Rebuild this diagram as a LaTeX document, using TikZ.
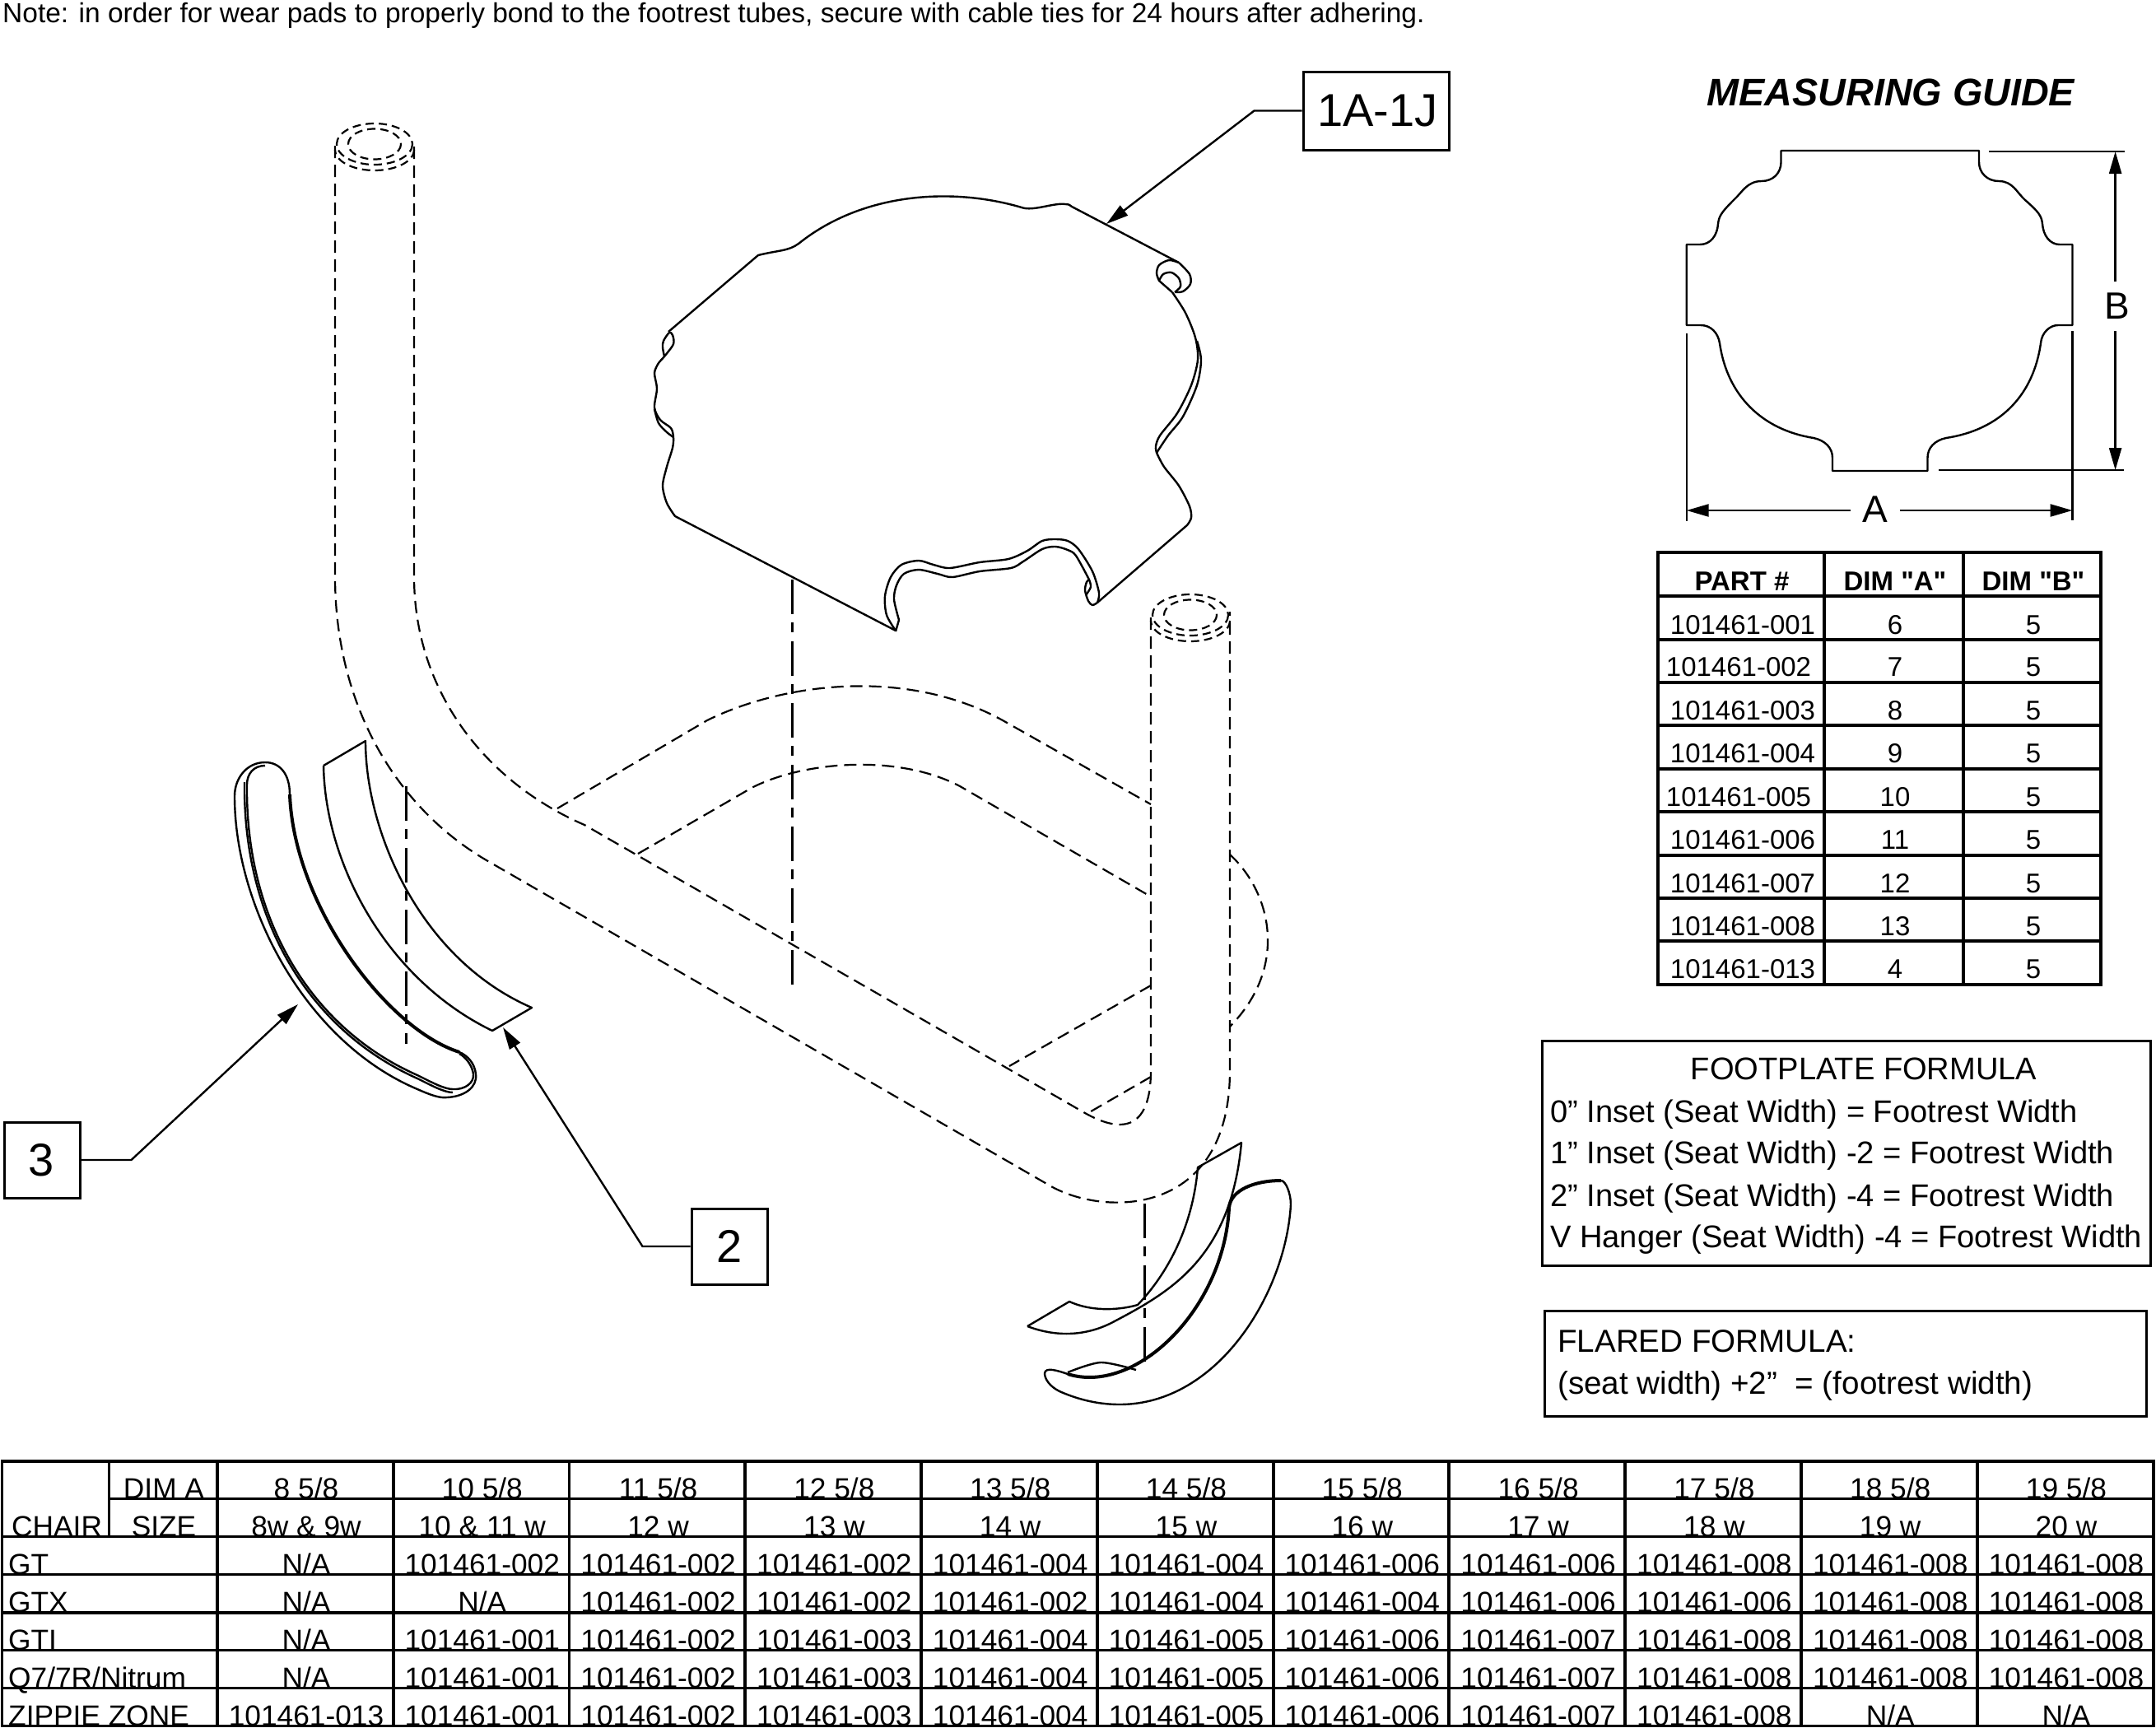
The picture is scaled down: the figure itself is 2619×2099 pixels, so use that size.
\documentclass[tikz,border=0pt]{standalone}
\usepackage{fontspec}
\setmainfont[Ligatures=TeXOff]{Liberation Sans}
\usetikzlibrary{arrows.meta}
\tikzset{
  hidden/.style={line width=2.2pt, dash pattern=on 15pt off 8pt},
  capline/.style={line width=2.2pt, dash pattern=on 10pt off 6pt},
  centerline/.style={line width=3pt, dash pattern=on 42pt off 10pt on 12pt off 11pt},
  part/.style={line width=2.4pt, line join=round},
  leader/.style={line width=2.4pt, -{Triangle[length=27pt,width=15pt]}},
  dimline/.style={line width=2.4pt},
  rule/.style={line width=3.5pt},
  partbox/.style={draw, line width=3pt, inner sep=0pt, font=\fontsize{56}{56}\selectfont},
  dimlabel/.style={inner sep=0pt, font=\fontsize{46}{46}\selectfont},
  note/.style={anchor=base west, inner sep=0pt, font=\fontsize{33.5}{33.5}\selectfont},
  formula/.style={anchor=base west, inner sep=0pt, font=\fontsize{38.1}{38.1}\selectfont},
  flared/.style={anchor=base west, inner sep=0pt, font=\fontsize{38.6}{38.6}\selectfont},
  small/.style={anchor=base, inner sep=0pt, font=\fontsize{33}{33}\selectfont},
  smallb/.style={anchor=base, inner sep=0pt, font=\bfseries\fontsize{33}{33}\selectfont},
  cell/.style={anchor=base, inner sep=0pt, font=\fontsize{35.3}{35.3}\selectfont},
  celll/.style={anchor=base west, inner sep=0pt, font=\fontsize{35.3}{35.3}\selectfont},
}
\begin{document}
\begin{tikzpicture}[x=1pt,y=-1pt]
      \useasboundingbox (0,0) rectangle (2619,2099);
      \node[note] (topnote) at (3,27) {Note: in order for wear pads to properly bond to the footrest tubes, secure with cable ties for 24 hours after adhering.};
      % tube, left leg, bend, cross bar, right leg
      \draw[hidden] (407,177) -- (407,700) .. controls (407,855) and (480,980) .. (591,1045) -- (1275,1440) .. controls (1340,1478) and (1494,1480) .. (1494,1300) -- (1494,743);
      \draw[hidden] (503,178) -- (503,700) .. controls (503,840) and (590,950) .. (710,1002) -- (1318,1352) .. controls (1350,1370) and (1398,1385) .. (1398,1300) -- (1398,750);
      \foreach \cx/\cy in {455/175,1446/747}{
        \draw[capline] (\cx,\cy) ellipse [x radius=46,y radius=25];
        \draw[capline] (\cx,\cy) ellipse [x radius=32,y radius=18.5];
        \draw[capline] plot [domain=0:180,samples=30] ({\cx+48*cos(\x)},{\cy+7+25*sin(\x)});
      }
      % hidden edges of the plate
      \draw[hidden] (677,982) -- (859,875) .. controls (950,830) and (1100,810) .. (1218,875) -- (1398,977);
      \draw[hidden] (775,1037) -- (913,957) .. controls (975,925) and (1090,915) .. (1166,955) -- (1396,1088);
      \draw[hidden] (1398,1197) -- (1226,1295);
      \draw[hidden] (1398,1308) -- (1320,1353);
      \draw[hidden] (1494,1038) .. controls (1545,1085) and (1565,1175) .. (1494,1247);
      % center lines
      \draw[centerline] (962,704) -- (962,1197);
      \draw[centerline] (493,955) -- (493,1268);
      \draw[centerline] (1390,1462) -- (1390,1657);
      % plate
      \draw[part] (812,403) -- (921,310) .. controls (945,304) and (958,305) .. (970,296) .. controls (1050,232) and (1160,228) .. (1241,252) .. controls (1255,257) and (1280,246) .. (1294,248) .. controls (1298,248) and (1300,249) .. (1302,251) -- (1432,319);
      \draw[part] plot [smooth] coordinates {(1432,319) (1445,333) (1446,345) (1437,354) (1427,355)};
      \draw[part] plot [smooth] coordinates {(1432,319) (1420,316) (1408,322) (1405,332) (1408,341)} -- (1424,355);
      \draw[part] plot [smooth] coordinates {(1408,341) (1413,333) (1423,331) (1432,338) (1434,348) (1427,355)};
      \draw[part] plot [smooth] coordinates {(1424,355) (1440,380) (1452,410) (1455,437) (1447,468) (1430,502) (1409,529) (1404,542) (1405,550)};
      \draw[part] plot [smooth] coordinates {(1454,414) (1459,437) (1454,468) (1437,506) (1419,529) (1405,550)};
      \draw[part] plot [smooth] coordinates {(1405,550) (1414,567) (1432,590) (1445,615) (1447,629) (1442,638)} -- (1333,732);
      \draw[part] plot [smooth] coordinates {(1333,732) (1327,735) (1322,730) (1318,717) (1320,707) (1323,704)};
      \draw[part] plot [smooth] coordinates {(1333,732) (1335,720) (1327,694) (1310,667) (1297,657) (1282,655) (1266,657) (1248,669) (1225,679) (1190,683) (1154,690) (1134,686) (1116,681) (1095,686) (1082,701) (1075,724) (1077,747) (1088,766)};
      \draw[part] plot [smooth] coordinates {(1323,704) (1307,675) (1297,668) (1282,664) (1266,667) (1243,682) (1228,690) (1190,694) (1157,701) (1139,697) (1116,692) (1098,697) (1089,711) (1086,728) (1092,753)} -- (1088,767);
      \draw[part] plot [smooth] coordinates {(1323,704) (1325,713) (1319,723)};
      \draw[part] (1088,766) -- (820,627) -- plot [smooth] coordinates {(820,627) (810,611) (805,590) (810,567) (817,544) (818,531) (815,520) (802,510) (795,495) (798,472) (795,453) (800,441) (807,433) (818,418) (817,407) (813,404) (806,414) (805,422) (807,433)};
      \draw[part] plot [smooth] coordinates {(795,497) (800,514) (810,525) (818,531)};
      % left wear pads
      \draw[part] (393,930) -- (444,900) .. controls (444,1010) and (510,1165) .. (646,1224) -- (598,1252) .. controls (470,1190) and (395,1050) .. (393,930);
      \draw[part] (322,926) .. controls (300,926) and (285,945) .. (285,967) .. controls (285,1100) and (370,1265) .. (507,1323) .. controls (525,1331) and (535,1334) .. (543,1333) .. controls (565,1332) and (580,1320) .. (578,1305) .. controls (577,1292) and (568,1282) .. (558,1278) .. controls (470,1250) and (357,1100) .. (352,965) .. controls (352,940) and (340,926) .. (322,926) -- cycle;
      \draw[part] (322,930) .. controls (308,930) and (300,940) .. (300,953) .. controls (298,1120) and (380,1250) .. (507,1306) .. controls (525,1315) and (540,1323) .. (550,1323) .. controls (565,1324) and (576,1315) .. (575,1305) .. controls (574,1295) and (566,1284) .. (558,1280);
      \draw[part] (297,950) .. controls (295,1120) and (377,1252) .. (507,1310) .. controls (525,1319) and (540,1327) .. (550,1327);
      \draw[line width=4pt] (558,1278) .. controls (470,1250) and (357,1100) .. (352,965);
      % right wear pads
      \draw[part] (1248,1611) -- (1299,1581) .. controls (1330,1595) and (1365,1590) .. (1382,1585) .. controls (1425,1540) and (1450,1480) .. (1455,1418) -- (1508,1388) .. controls (1495,1530) and (1420,1570) .. (1350,1607) .. controls (1320,1622) and (1285,1625) .. (1248,1611);
      \draw[part] (1568,1463) .. controls (1562,1570) and (1480,1706) .. (1360,1706) .. controls (1330,1706) and (1305,1698) .. (1287,1690) .. controls (1275,1684) and (1269,1675) .. (1269,1668) .. controls (1270,1660) and (1285,1665) .. (1297,1669) .. controls (1380,1695) and (1487,1590) .. (1493,1467) .. controls (1495,1445) and (1525,1434) .. (1556,1434) .. controls (1562,1434) and (1568,1450) .. (1568,1463);
      \draw[line width=4pt] (1297,1669) .. controls (1380,1695) and (1487,1590) .. (1493,1467) .. controls (1495,1445) and (1525,1434) .. (1556,1434);
      \draw[part] plot [smooth] coordinates {(1297,1667) (1337,1655) (1380,1664)};
      % callouts
      \node[partbox, minimum width=177pt, minimum height=95pt] (box1a) at (1671.5,134.5) {\hspace{4pt}1A-1J};
      \node[partbox, minimum size=92pt] (box3) at (51,1409) {\hspace{-2pt}3};
      \node[partbox, minimum size=92pt] (box2) at (886,1514) {2};
      \coordinate (tip1a) at (1344,272);
      \coordinate (tip3) at (362,1220);
      \coordinate (tip2) at (611,1248);
      \draw[leader] (box1a.west) -- ++(-58,0) -- (tip1a);
      \draw[leader] (box3.east) -- ++(61,0) -- (tip3);
      \draw[leader] (box2.west) -- ++(-58,0) -- (tip2);
      % measuring guide
      \node[anchor=center, inner sep=0pt, font=\bfseries\itshape\fontsize{46.7}{46.7}\selectfont] (guide) at (2297,112) {MEASURING GUIDE};
      \draw[part] (2163.5,183) -- (2404,183) -- (2404,197) .. controls (2404,210) and (2414,220) .. (2428,220) .. controls (2445,220) and (2450,234) .. (2460,243) .. controls (2476,257) and (2480,262) .. (2481,272) .. controls (2482,286) and (2490,297) .. (2502,297) -- (2517.5,297) -- (2517.5,395) -- (2500,395) .. controls (2490,395) and (2480,404) .. (2479,417) .. controls (2470,480) and (2430,522) .. (2364,532) .. controls (2350,535) and (2341.5,544) .. (2341.5,556) -- (2341.5,572) -- (2226,572) -- (2226,556) .. controls (2226,544) and (2217,535) .. (2203,532) .. controls (2140,522) and (2098,480) .. (2089,417) .. controls (2087,404) and (2078,395) .. (2066,395) -- (2048.7,395) -- (2048.7,297) -- (2065,297) .. controls (2078,297) and (2086,286) .. (2087,272) .. controls (2088,262) and (2092,257) .. (2106,243) .. controls (2116,234) and (2122,220) .. (2140,220) .. controls (2154,220) and (2163.5,210) .. (2163.5,197) -- cycle;
      \draw[dimline] (2416,184) -- (2581,184);
      \draw[dimline] (2355,571) -- (2580,571);
      \draw[dimline] (2048.7,405) -- (2048.7,633);
      \draw[dimline] (2517.5,402) -- (2517.5,632);
      \node[dimlabel, minimum width=59pt] (dimA) at (2278,619) {A};
      \node[dimlabel, minimum height=60pt] (dimB) at (2572,372) {B};
      \coordinate (dimAl) at (2048.7,620);
      \coordinate (dimAr) at (2517.5,620);
      \coordinate (dimBt) at (2569.6,184);
      \coordinate (dimBb) at (2569.6,571);
      \draw[leader] (dimA.west |- dimAl) -- (dimAl);
      \draw[leader] (dimA.east |- dimAr) -- (dimAr);
      \draw[leader] (dimBt |- dimB.north) -- (dimBt);
      \draw[leader] (dimBb |- dimB.south) -- (dimBb);
      % part table
      \foreach \y in {671,724,777,829,881,934,986,1039,1091,1143,1196}
      \draw[rule] (2014,\y) -- (2552,\y);
      \foreach \x in {2014,2216,2385,2552}
      \draw[rule] (\x,669) -- (\x,1198);
      \node[smallb] (hpart) at (2116,717) {PART \#};
      \node[smallb] (hdima) at (2302,717) {DIM "A"};
      \node[smallb] (hdimb) at (2470,717) {DIM "B"};
      \foreach \y/\xp/\pn/\da in {770/2117/001/6,821/2112/002/7,874/2117/003/8,926/2117/004/9,979/2112/005/10,1031/2117/006/11,1084/2117/007/12,1136/2117/008/13,1188/2117/013/4}{
        \node[small] (pn\pn) at (\xp,\y) {101461-\pn};
        \node[small] (da\pn) at (2302,\y) {\da};
        \node[small] (db\pn) at (2470,\y) {5};
      }
      % formula boxes
      \draw[line width=3pt] (1873.5,1264) rectangle (2612.5,1537);
      \draw[line width=3pt] (1876,1592) rectangle (2607.5,1720);
      \node[formula, anchor=base] (ftitle) at (2264,1311) {FOOTPLATE FORMULA};
      \node[formula] (f0) at (1883,1363) {0” Inset (Seat Width) = Footrest Width};
      \node[formula] (f1) at (1883,1413) {1” Inset (Seat Width) -2 = Footrest Width};
      \node[formula] (f2) at (1883,1465) {2” Inset (Seat Width) -4 = Footrest Width};
      \node[formula] (f3) at (1883,1515) {V Hanger (Seat Width) -4 = Footrest Width};
      \node[flared] (fl0) at (1892,1642) {FLARED FORMULA:};
      \node[flared] (fl1) at (1892,1693) {(seat width) +2”\ \ = (footrest width)};
      % chair table
      \draw[rule] (2.5,1775) -- (2616,1775);
      \draw[rule] (132.5,1820.5) -- (2616,1820.5);
      \foreach \y in {1866.5,1912.5,1959,2004.5,2050.5,2096.5}
      \draw[rule] (2.5,\y) -- (2616,\y);
      \draw[rule] (2.5,1773) -- (2.5,2098);
      \draw[rule] (132.5,1773) -- (132.5,1868);
      \foreach \x in {264,478,691.5,905,1119,1333,1547,1760,1974,2188,2402,2616}
      \draw[rule] (\x,1773) -- (\x,2098);
      \node[cell] (dimahead) at (199,1820) {DIM A};
      \node[cell] (sizehead) at (199,1866) {SIZE};
      \node[celll] (chairhead) at (14,1866) {CHAIR};
      \foreach \dima/\wsize [count=\c] in {{8 5/8}/{8w \& 9w},{10 5/8}/{10 \& 11 w},{11 5/8}/{12 w},{12 5/8}/{13 w},{13 5/8}/{14 w},{14 5/8}/{15 w},{15 5/8}/{16 w},{16 5/8}/{17 w},{17 5/8}/{18 w},{18 5/8}/{19 w},{19 5/8}/{20 w}}{
        \node[cell] (dim\c) at ({372+213.8*(\c-1)},1820) {\dima};
        \node[cell] (size\c) at ({372+213.8*(\c-1)},1866) {\wsize};
      }
      \foreach \y/\chair/\codes [count=\r] in {
        1912/GT/{N/A,101461-002,101461-002,101461-002,101461-004,101461-004,101461-006,101461-006,101461-008,101461-008,101461-008},
        1958/GTX/{N/A,N/A,101461-002,101461-002,101461-002,101461-004,101461-004,101461-006,101461-006,101461-008,101461-008},
        2004/GTI/{N/A,101461-001,101461-002,101461-003,101461-004,101461-005,101461-006,101461-007,101461-008,101461-008,101461-008},
        2050/{Q7/7R/Nitrum}/{N/A,101461-001,101461-002,101461-003,101461-004,101461-005,101461-006,101461-007,101461-008,101461-008,101461-008},
        2096/ZIPPIE ZONE/{101461-013,101461-001,101461-002,101461-003,101461-004,101461-005,101461-006,101461-007,101461-008,N/A,N/A}}{
        \node[celll] (chair\r) at (10,\y) {\chair};
        \foreach \code [count=\c] in \codes
        \node[cell] (cell\r-\c) at ({372+213.8*(\c-1)},\y) {\code};
      }
    \end{tikzpicture}
\end{document}
